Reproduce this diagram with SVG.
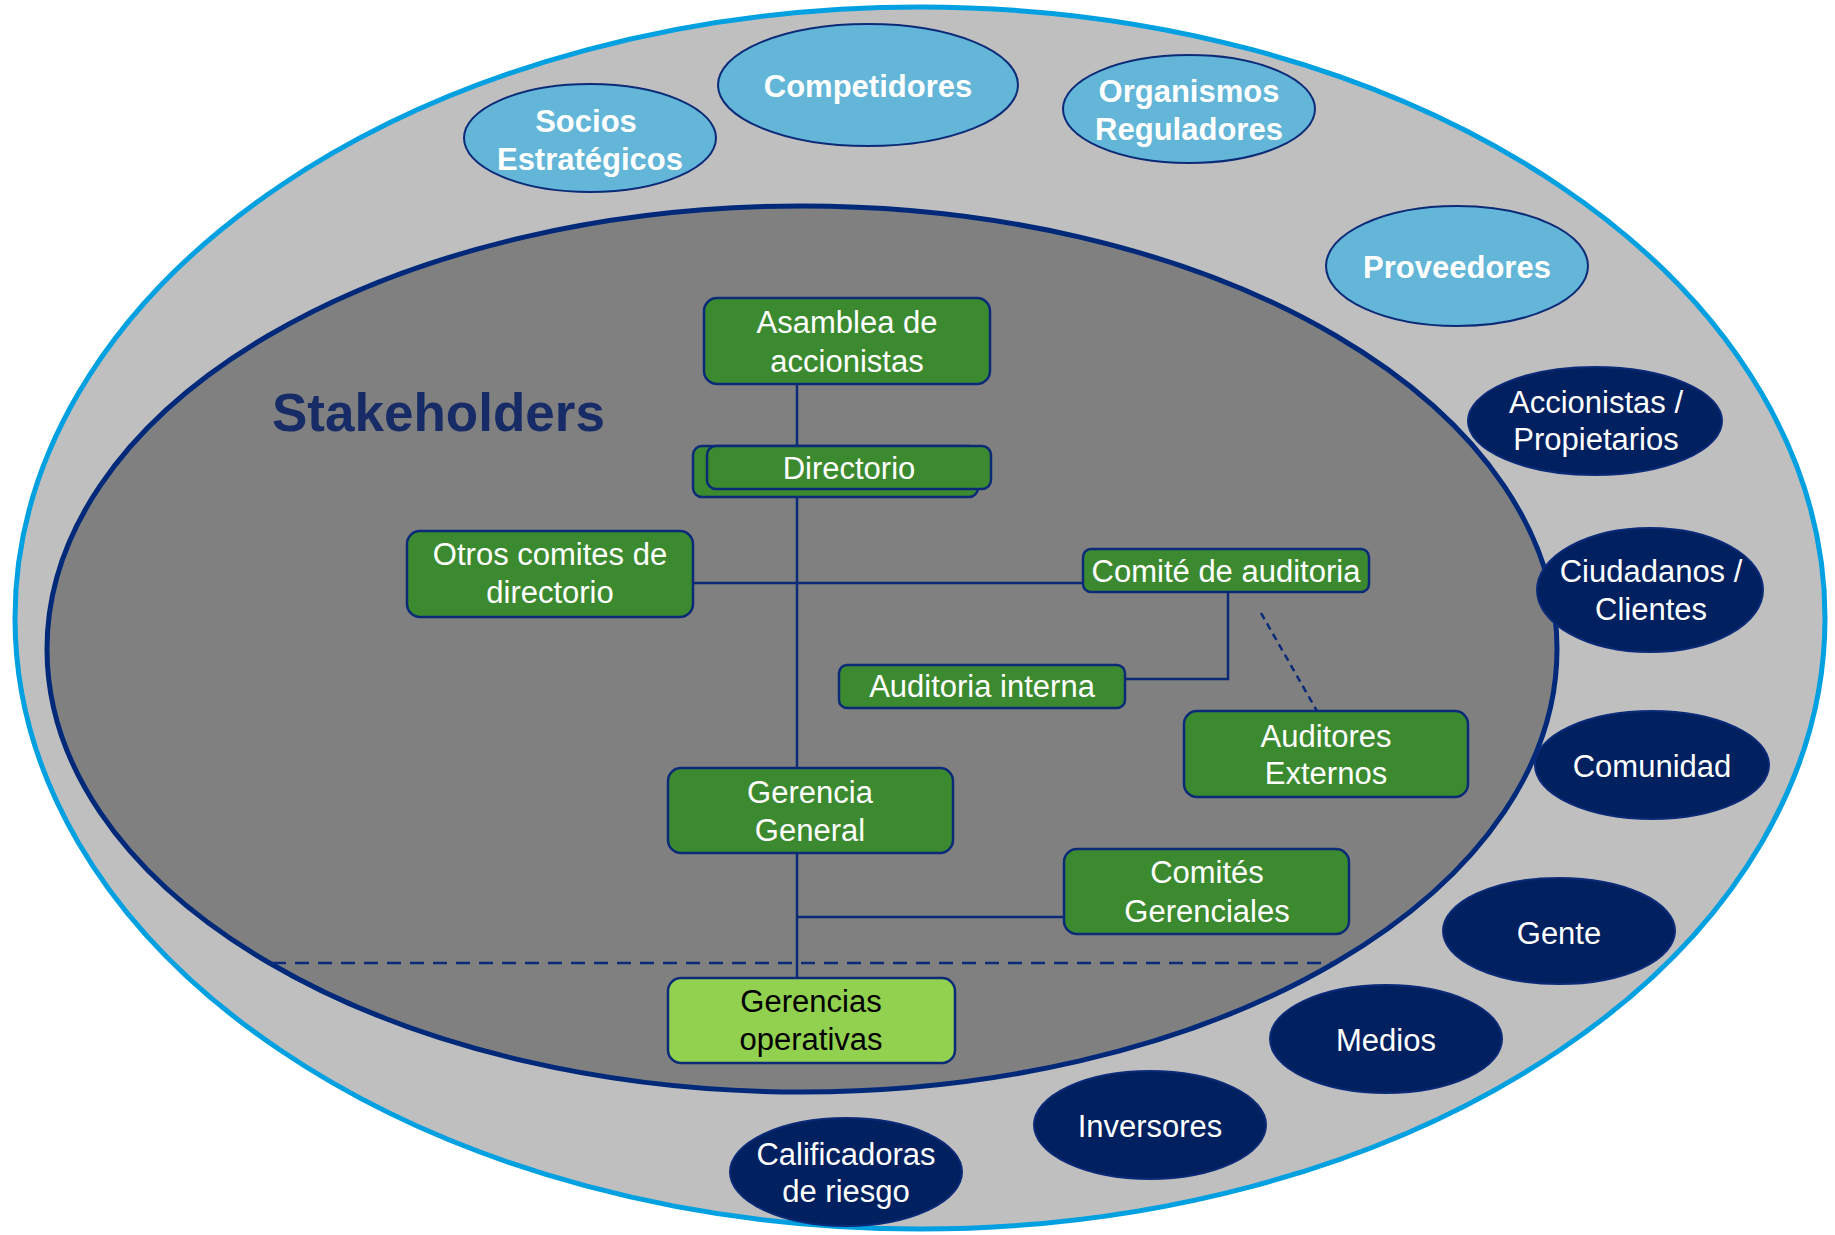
<svg xmlns="http://www.w3.org/2000/svg" width="1835" height="1235" viewBox="0 0 1835 1235">
  <style>
    .box { fill: #3C8A2F; stroke: #0B2A78; stroke-width: 2.5; }
    .box-light { fill: #92D050; stroke: #0B2A78; stroke-width: 2.5; }
    .ext { fill: #63B6D7; stroke: #0B2A78; stroke-width: 2; }
    .int { fill: #002060; stroke: #0B2A78; stroke-width: 2; }
    .conn { fill: none; stroke: #0B2A78; stroke-width: 2.5; }
    text { font-family: "Liberation Sans", Arial, sans-serif; font-size: 31px; text-anchor: middle; }
    .w { fill: #FFFFFF; }
    .b { fill: #FFFFFF; font-weight: bold; }
    .k { fill: #000000; }
  </style>

  <!-- outer ring of external stakeholders -->
  <ellipse id="outer-ring" cx="920" cy="618" rx="905" ry="611" fill="#BFBFBF" stroke="#00A0E1" stroke-width="5"/>
  <!-- inner governance area -->
  <ellipse id="inner-area" cx="802" cy="649" rx="755" ry="443" fill="#808080" stroke="#00297A" stroke-width="5"/>

  <text x="272" y="431" style="font-size:53px;font-weight:bold;fill:#172C66;text-anchor:start">Stakeholders</text>

  <!-- connectors -->
  <g id="connectors">
    <line class="conn" x1="797" y1="384" x2="797" y2="446"/>
    <line class="conn" x1="797" y1="497" x2="797" y2="768"/>
    <line class="conn" x1="692" y1="583" x2="1083" y2="583"/>
    <polyline class="conn" points="1228,592 1228,679 1125,679"/>
    <line class="conn" x1="1261" y1="613" x2="1317" y2="711" stroke-dasharray="7,5" stroke-width="1.8"/>
    <line class="conn" x1="797" y1="853" x2="797" y2="978"/>
    <line class="conn" x1="797" y1="917" x2="1064" y2="917"/>
    <line class="conn" x1="272" y1="963" x2="1334" y2="963" stroke-dasharray="14,9" stroke-width="3"/>
  </g>

  <!-- governance bodies -->
  <g id="asamblea">
    <rect class="box" x="704" y="298" width="286" height="86" rx="13"/>
    <text class="w" x="847" y="333">Asamblea de</text>
    <text class="w" x="847" y="372">accionistas</text>
  </g>
  <g id="directorio">
    <rect class="box" x="693" y="446" width="285" height="51" rx="9"/>
    <rect class="box" x="707" y="446" width="284" height="43" rx="9"/>
    <text class="w" x="849" y="479">Directorio</text>
  </g>
  <g id="otros-comites">
    <rect class="box" x="407" y="531" width="286" height="86" rx="13"/>
    <text class="w" x="550" y="565">Otros comites de</text>
    <text class="w" x="550" y="603">directorio</text>
  </g>
  <g id="comite-auditoria">
    <rect class="box" x="1083" y="549" width="286" height="43" rx="8"/>
    <text class="w" x="1226" y="582">Comité de auditoria</text>
  </g>
  <g id="auditoria-interna">
    <rect class="box" x="839" y="665" width="286" height="43" rx="8"/>
    <text class="w" x="982" y="697">Auditoria interna</text>
  </g>
  <g id="auditores-externos">
    <rect class="box" x="1184" y="711" width="284" height="86" rx="13"/>
    <text class="w" x="1326" y="747">Auditores</text>
    <text class="w" x="1326" y="784">Externos</text>
  </g>
  <g id="gerencia-general">
    <rect class="box" x="668" y="768" width="285" height="85" rx="13"/>
    <text class="w" x="810" y="803">Gerencia</text>
    <text class="w" x="810" y="841">General</text>
  </g>
  <g id="comites-gerenciales">
    <rect class="box" x="1064" y="849" width="285" height="85" rx="13"/>
    <text class="w" x="1207" y="883">Comités</text>
    <text class="w" x="1207" y="922">Gerenciales</text>
  </g>
  <g id="gerencias-operativas">
    <rect class="box-light" x="668" y="978" width="287" height="85" rx="13"/>
    <text class="k" x="811" y="1012">Gerencias</text>
    <text class="k" x="811" y="1050">operativas</text>
  </g>

  <!-- external stakeholders -->
  <g id="socios">
    <ellipse class="ext" cx="590" cy="138" rx="126" ry="54"/>
    <text class="b" x="586" y="132">Socios</text>
    <text class="b" x="590" y="170">Estratégicos</text>
  </g>
  <g id="competidores">
    <ellipse class="ext" cx="868" cy="85" rx="150" ry="61"/>
    <text class="b" x="868" y="97">Competidores</text>
  </g>
  <g id="organismos">
    <ellipse class="ext" cx="1189" cy="109" rx="126" ry="54"/>
    <text class="b" x="1189" y="102">Organismos</text>
    <text class="b" x="1189" y="140">Reguladores</text>
  </g>
  <g id="proveedores">
    <ellipse class="ext" cx="1457" cy="266" rx="131" ry="60"/>
    <text class="b" x="1457" y="278">Proveedores</text>
  </g>

  <!-- internal / direct stakeholders -->
  <g id="accionistas">
    <ellipse class="int" cx="1595" cy="421" rx="127" ry="54"/>
    <text class="w" x="1596" y="413">Accionistas /</text>
    <text class="w" x="1596" y="450">Propietarios</text>
  </g>
  <g id="ciudadanos">
    <ellipse class="int" cx="1650" cy="590" rx="113" ry="62"/>
    <text class="w" x="1651" y="582">Ciudadanos /</text>
    <text class="w" x="1651" y="620">Clientes</text>
  </g>
  <g id="comunidad">
    <ellipse class="int" cx="1652" cy="765" rx="117" ry="54"/>
    <text class="w" x="1652" y="777">Comunidad</text>
  </g>
  <g id="gente">
    <ellipse class="int" cx="1559" cy="931" rx="116" ry="53"/>
    <text class="w" x="1559" y="944">Gente</text>
  </g>
  <g id="medios">
    <ellipse class="int" cx="1386" cy="1039" rx="116" ry="54"/>
    <text class="w" x="1386" y="1051">Medios</text>
  </g>
  <g id="inversores">
    <ellipse class="int" cx="1150" cy="1125" rx="116" ry="54"/>
    <text class="w" x="1150" y="1137">Inversores</text>
  </g>
  <g id="calificadoras">
    <ellipse class="int" cx="846" cy="1172" rx="116" ry="54"/>
    <text class="w" x="846" y="1165">Calificadoras</text>
    <text class="w" x="846" y="1202">de riesgo</text>
  </g>
</svg>
